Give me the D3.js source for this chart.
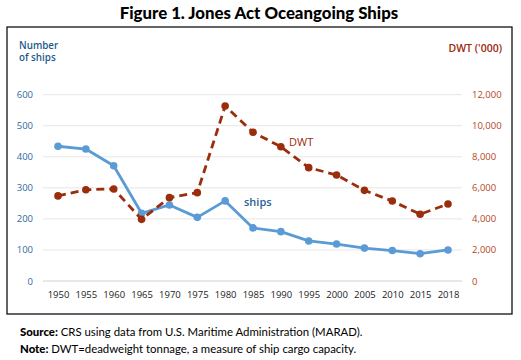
<!DOCTYPE html>
<html><head><meta charset="utf-8">
<script src="https://cdn.jsdelivr.net/npm/d3@7"></script>
<style>
body{margin:0;background:#fff;}
svg{display:block;font-family:"Open Sans","Noto Sans",sans-serif;}
</style></head>
<body><svg id="c" width="521" height="360"></svg>
<script>
const years = ["1950","1955","1960","1965","1970","1975","1980","1985","1990","1995","2000","2005","2010","2015","2018"];
const ships = [434,425,371,218,245,205,258,171,159,129,119,106,98,88,100];
const dwt = [5480,5880,5930,3970,5370,5690,11270,9580,8650,7300,6830,5840,5150,4300,4960];
const leftTicks = [0,100,200,300,400,500,600];
const rightTicks = [0,2000,4000,6000,8000,10000,12000];

const svg = d3.select("#c");
const x = d3.scalePoint().domain(years).range([58,448]);
const yL = d3.scaleLinear().domain([0,600]).range([281,94.7]);
const yR = d3.scaleLinear().domain([0,12000]).range([281,94.7]);

svg.append("text").attr("x",259).attr("y",19).attr("text-anchor","middle")
  .attr("font-family","Lato, sans-serif").attr("font-weight","900").attr("font-size",16.8)
  .attr("fill","#000").text("Figure 1. Jones Act Oceangoing Ships");

svg.append("rect").attr("x",7).attr("y",27).attr("width",505).attr("height",287)
  .attr("fill","none").attr("stroke","#111").attr("stroke-width",1.3);

// gridlines
svg.append("g").selectAll("line").data(leftTicks).join("line")
  .attr("x1",43).attr("x2",462).attr("y1",d=>yL(d)).attr("y2",d=>yL(d))
  .attr("stroke",d=>d===0?"#d0d0d0":"#e6e6e6").attr("stroke-width",1);

// left axis
const la = svg.append("g").attr("transform","translate(40,0)")
  .call(d3.axisLeft(yL).tickValues(leftTicks).tickSize(0).tickPadding(7));
la.select(".domain").remove();
la.selectAll("text").attr("fill","#2f6b9f").attr("font-size",9.5).attr("font-family","Open Sans, sans-serif");

// right axis
const ra = svg.append("g").attr("transform","translate(466,0)")
  .call(d3.axisRight(yR).tickValues(rightTicks).tickSize(0).tickPadding(6).tickFormat(d3.format(",")));
ra.select(".domain").remove();
ra.selectAll("text").attr("fill","#b5471c").attr("font-size",9.5).attr("font-family","Open Sans, sans-serif");

// x axis
const xa = svg.append("g").attr("transform","translate(0,287)")
  .call(d3.axisBottom(x).tickSize(0).tickPadding(4));
xa.select(".domain").remove();
xa.selectAll("text").attr("fill","#222").attr("font-size",9.5).attr("font-family","Open Sans, sans-serif");

// axis titles
svg.append("text").attr("x",19).attr("y",48.5).attr("fill","#1f5a8c").attr("font-size",9.8)
  .attr("font-weight","600").attr("font-family","Open Sans, sans-serif").text("Number");
svg.append("text").attr("x",19).attr("y",61).attr("fill","#1f5a8c").attr("font-size",9.8)
  .attr("font-weight","600").attr("font-family","Open Sans, sans-serif").text("of ships");
svg.append("text").attr("x",502).attr("y",52).attr("text-anchor","end").attr("fill","#9b2a0b").attr("font-size",10.5)
  .attr("font-weight","600").attr("font-family","Open Sans, sans-serif").text("DWT ('000)");

// ships line
const lineS = d3.line().x((d,i)=>x(years[i])).y(d=>yL(d));
svg.append("path").datum(ships).attr("d",lineS).attr("fill","none")
  .attr("stroke","#5b9bd5").attr("stroke-width",2.8).attr("stroke-linejoin","round");
svg.append("g").selectAll("circle").data(ships).join("circle")
  .attr("cx",(d,i)=>x(years[i])).attr("cy",d=>yL(d)).attr("r",3.8).attr("fill","#5b9bd5");

// dwt line
const lineD = d3.line().x((d,i)=>x(years[i])).y(d=>yR(d));
svg.append("path").datum(dwt).attr("d",lineD).attr("fill","none")
  .attr("stroke","#9b2d0c").attr("stroke-width",2.8).attr("stroke-dasharray","8,5");
svg.append("g").selectAll("circle").data(dwt).join("circle")
  .attr("cx",(d,i)=>x(years[i])).attr("cy",d=>yR(d)).attr("r",3.8).attr("fill","#9b2d0c");

// series labels
svg.append("text").attr("x",244).attr("y",206).attr("fill","#2a6099").attr("font-size",11)
  .attr("font-weight","600").attr("font-family","Open Sans, sans-serif").text("ships");
svg.append("text").attr("x",289).attr("y",146).attr("fill","#9b2a0b").attr("font-size",11)
  .attr("font-family","Open Sans, sans-serif").text("DWT");

// footnotes
const f1 = svg.append("text").attr("x",20).attr("y",335.5).attr("font-size",11.4).attr("font-family","Lato, sans-serif").attr("fill","#000");
f1.append("tspan").attr("font-weight","900").text("Source: ");
f1.append("tspan").text("CRS using data from U.S. Maritime Administration (MARAD).");
const f2 = svg.append("text").attr("x",20).attr("y",353).attr("font-size",11.4).attr("font-family","Lato, sans-serif").attr("fill","#000");
f2.append("tspan").attr("font-weight","900").text("Note: ");
f2.append("tspan").text("DWT=deadweight tonnage, a measure of ship cargo capacity.");
</script></body></html>
